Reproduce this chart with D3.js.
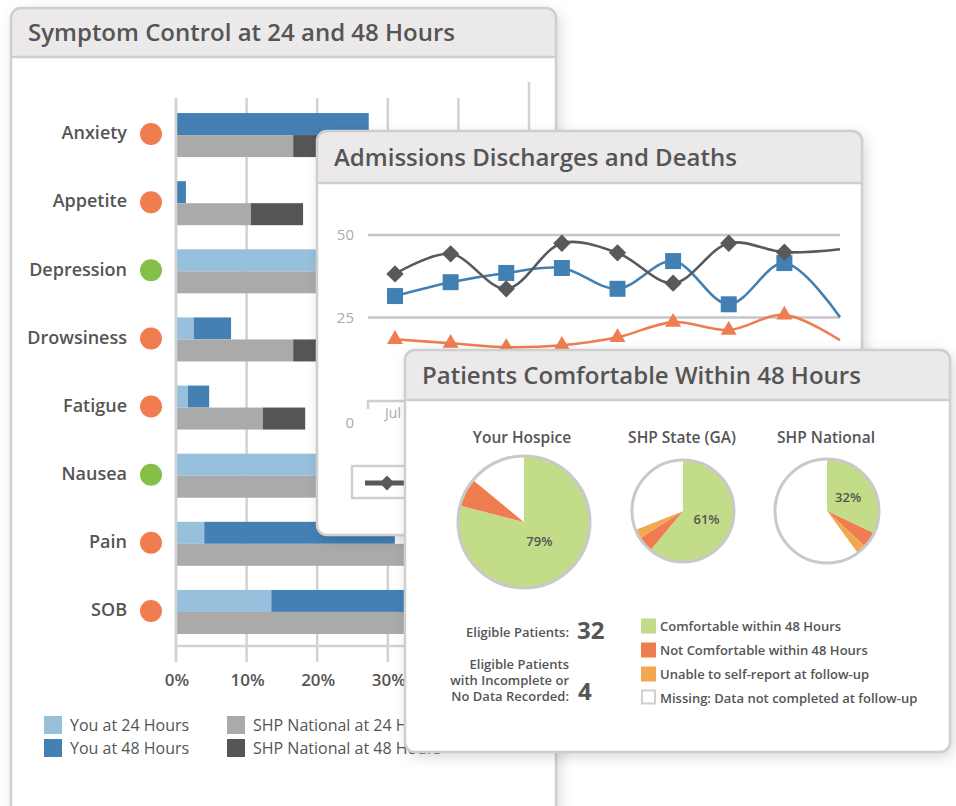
<!DOCTYPE html>
<html><head><meta charset="utf-8">
<script src="https://cdn.jsdelivr.net/npm/d3@7"></script>
<style>
body{margin:0;background:#fff;}
svg{display:block;font-family:'Open Sans',sans-serif;}
</style></head><body>
<svg id="c" width="956" height="806"></svg>
<script>
// ---------- DATA ----------
// Panel 1: Symptom Control (stacked segments, %)
const symptoms = ["Anxiety","Appetite","Depression","Drowsiness","Fatigue","Nausea","Pain","SOB"];
const symptomStatus = ["bad","bad","good","bad","bad","good","bad","bad"];
const you24 = [0, 0, 30, 2.5, 1.7, 28, 4.0, 13.5];
const you48 = [27.3, 1.4, 0, 5.3, 3.0, 0, 27.0, 24];   // added on top of 24h
const nat24 = [16.6, 10.6, 25, 16.6, 12.3, 26, 34, 35];
const nat48 = [6, 7.4, 0, 5, 6, 0, 0, 0];              // added on top of 24h
const pctTicks = [0, 10, 20, 30, 40, 50];
const pctTickLabels = ["0%","10%","20%","30%"];        // visible labels (40%, 50% lie under the front panel)
const barLegend = ["You at 24 Hours","You at 48 Hours","SHP National at 24 Hours","SHP National at 48 Hours"];

// Panel 2: Admissions Discharges and Deaths
const months = ["Jul","Aug","Sep","Oct","Nov","Dec","Jan","Feb","Mar"];
const seriesGray = [38.2, 44.3, 33.7, 47.5, 44.6, 35.4, 47.5, 44.8, 45.7];
const seriesBlue = [31.5, 35.7, 38.5, 40.0, 33.7, 42.1, 29.0, 41.5, 25.1];
const seriesOrange = [18.4, 17.2, 16.0, 16.6, 19.0, 23.6, 21.2, 25.8, 18.1];
const countTicks = [0, 25, 50];
const visibleMonthLabels = ["Jul"];

// Panel 3: Patients Comfortable Within 48 Hours
const pieGroups = ["Your Hospice","SHP State (GA)","SHP National"];
const comfortable = [79, 61, 32];
const notComfortable = [7, 5, 5];
const unableReport = [0, 3, 3];
const missingData = [14, 31, 60];
const pieLegend = ["Comfortable within 48 Hours","Not Comfortable within 48 Hours","Unable to self-report at follow-up","Missing: Data not completed at follow-up"];
const eligiblePatients = 32;
const incompletePatients = 4;

// ---------- DRAW ----------
const TXT = "#555";
const svg = d3.select("#c");
const defs = svg.append("defs");
const flt = defs.append("filter").attr("id","sh").attr("x","-10%").attr("y","-10%").attr("width","125%").attr("height","125%");
flt.append("feDropShadow").attr("dx",3).attr("dy",4).attr("stdDeviation",7).attr("flood-color","#000").attr("flood-opacity",0.17);

let clipN = 0;
function panel(x, y, w, h, hh, title) {
  const id = "clip" + (clipN++);
  defs.append("clipPath").attr("id", id).append("rect")
    .attr("x", x).attr("y", y).attr("width", w).attr("height", h).attr("rx", 10);
  const g = svg.append("g");
  g.append("rect").attr("x", x).attr("y", y).attr("width", w).attr("height", h).attr("rx", 10)
    .attr("fill", "#fff").attr("filter", "url(#sh)");
  const content = g.append("g");
  const hg = g.append("g").attr("clip-path", `url(#${id})`);
  hg.append("rect").attr("x", x).attr("y", y).attr("width", w).attr("height", hh).attr("fill", "#ebe9ea");
  hg.append("line").attr("x1", x).attr("x2", x + w).attr("y1", y + hh).attr("y2", y + hh)
    .attr("stroke", "#cfcfcf").attr("stroke-width", 2.5);
  g.append("text").attr("x", x + 17).attr("y", y + hh / 2 + 8.5).text(title)
    .attr("font-size", 24).attr("font-weight", 600).attr("fill", TXT);
  g.append("rect").attr("x", x).attr("y", y).attr("width", w).attr("height", h).attr("rx", 10)
    .attr("fill", "none").attr("stroke", "#cfcfcf").attr("stroke-width", 2.5);
  return content;
}

// ----- Panel 1 -----
const p1 = panel(11, 8, 545, 830, 49, "Symptom Control at 24 and 48 Hours");
const x1 = d3.scaleLinear().domain([0, 50]).range([176, 529]);
const y1 = d3.scaleBand().domain(symptoms).range([101, 646]).paddingInner(0.354).paddingOuter(0.177);
const bw = y1.bandwidth() / 2;

p1.selectAll(".grid").data(pctTicks).join("line")
  .attr("x1", d => x1(d)).attr("x2", d => x1(d))
  .attr("y1", d => d === 50 ? 82 : 98).attr("y2", 662)
  .attr("stroke", "#d2d2d2").attr("stroke-width", 2.5);
p1.append("line").attr("x1", x1(0)).attr("x2", x1(50)).attr("y1", 646).attr("y2", 646)
  .attr("stroke", "#d2d2d2").attr("stroke-width", 2.5);

const cLight = "#97c0dc", cBlue = "#4480b3", cGray = "#abaaab", cDark = "#555555";
symptoms.forEach((s, i) => {
  const yy = y1(s);
  p1.append("rect").attr("x", x1(0)).attr("y", yy).attr("height", bw)
    .attr("width", x1(you24[i]) - x1(0)).attr("fill", cLight);
  p1.append("rect").attr("x", x1(you24[i])).attr("y", yy).attr("height", bw)
    .attr("width", x1(you24[i] + you48[i]) - x1(you24[i])).attr("fill", cBlue);
  p1.append("rect").attr("x", x1(0)).attr("y", yy + bw).attr("height", bw)
    .attr("width", x1(nat24[i]) - x1(0)).attr("fill", cGray);
  p1.append("rect").attr("x", x1(nat24[i])).attr("y", yy + bw).attr("height", bw)
    .attr("width", x1(nat24[i] + nat48[i]) - x1(nat24[i])).attr("fill", cDark);
  const cy = yy + y1.bandwidth() / 2;
  p1.append("text").attr("x", 127).attr("y", cy - 2).attr("dy", "0.35em").attr("text-anchor", "end")
    .attr("font-size", 18).attr("font-weight", 600).attr("fill", TXT).text(s);
  p1.append("circle").attr("cx", 151).attr("cy", cy - 1).attr("r", 11)
    .attr("fill", symptomStatus[i] === "good" ? "#84c048" : "#ef7d50");
});
p1.append("line").attr("x1", x1(0)).attr("x2", x1(0)).attr("y1", 98).attr("y2", 662)
  .attr("stroke", "#d2d2d2").attr("stroke-width", 2.5);
p1.selectAll(".tl").data(pctTickLabels).join("text")
  .attr("x", (d, i) => x1(pctTicks[i]) + 1).attr("y", 680).attr("dy", "0.35em").attr("text-anchor", "middle")
  .attr("font-size", 17).attr("font-weight", 600).attr("fill", TXT).text(d => d);

const legCols = [cLight, cBlue, cGray, cDark];
barLegend.forEach((t, i) => {
  const lx = i < 2 ? 44 : 227, ly = i % 2 === 0 ? 716 : 739;
  p1.append("rect").attr("x", lx).attr("y", ly).attr("width", 18).attr("height", 18).attr("fill", legCols[i]);
  p1.append("text").attr("x", lx + 26).attr("y", ly + 9).attr("dy", "0.35em")
    .attr("font-size", 16).attr("fill", TXT).text(t);
});

// ----- Panel 2 -----
const p2 = panel(317, 131, 545, 404, 52, "Admissions Discharges and Deaths");
const x2 = d3.scalePoint().domain(months).range([395, 840]);
const y2 = d3.scaleLinear().domain([0, 50]).range([400, 235]);
p2.selectAll(".g2").data(countTicks.filter(d => d > 0)).join("line")
  .attr("x1", 368).attr("x2", 840).attr("y1", d => y2(d)).attr("y2", d => y2(d))
  .attr("stroke", "#c6c6c8").attr("stroke-width", 2.5);
p2.selectAll(".yl").data(countTicks).join("text")
  .attr("x", 354).attr("y", d => d === 0 ? y2(d) + 23 : y2(d)).attr("dy", "0.35em").attr("text-anchor", "end")
  .attr("font-size", 15).attr("fill", "#aaa").text(d => d);
p2.append("path").attr("d", `M368,409V401H840`).attr("fill", "none")
  .attr("stroke", "#cfcfcf").attr("stroke-width", 2.5);
p2.selectAll(".xl").data(visibleMonthLabels).join("text")
  .attr("x", d => x2(d) - 2).attr("y", 413).attr("dy", "0.35em").attr("text-anchor", "middle")
  .attr("font-size", 14).attr("fill", "#aaa").text(d => d);

const line2 = d3.line().x((d, i) => x2(months[i])).y(d => y2(d)).curve(d3.curveCatmullRom.alpha(0.5));
const ser = [
  {v: seriesOrange, c: "#ef7d50", sym: d3.symbolTriangle, size: 110, rot: 0},
  {v: seriesBlue, c: "#4280b4", sym: d3.symbolSquare, size: 256, rot: 0},
  {v: seriesGray, c: "#58595b", sym: d3.symbolSquare, size: 150, rot: 45}
];
ser.forEach(s => {
  p2.append("path").attr("d", line2(s.v)).attr("fill", "none").attr("stroke", s.c).attr("stroke-width", 2.6);
  p2.selectAll(null).data(s.v.slice(0, 8)).join("path")
    .attr("d", d3.symbol().type(s.sym).size(s.size))
    .attr("transform", (d, i) => `translate(${x2(months[i])},${y2(d)}) rotate(${s.rot})`)
    .attr("fill", s.c);
});
// legend (mostly covered)
p2.append("rect").attr("x", 352).attr("y", 466).attr("width", 420).attr("height", 32)
  .attr("fill", "#fff").attr("stroke", "#cfcfcf").attr("stroke-width", 2.5);
p2.append("line").attr("x1", 365).attr("x2", 412).attr("y1", 483).attr("y2", 483)
  .attr("stroke", "#58595b").attr("stroke-width", 5);
p2.append("path").attr("d", d3.symbol().type(d3.symbolSquare).size(110))
  .attr("transform", "translate(387,483) rotate(45)").attr("fill", "#58595b");

// ----- Panel 3 -----
const p3 = panel(405, 350, 545, 402, 50, "Patients Comfortable Within 48 Hours");
const pieLayout = [[524, 522, 66], [683, 511, 51], [827, 511, 52]];
const titleX = [522, 682, 826];
const pieCols = ["#c2dc88", "#ef7d50", "#f0a852", "#ffffff"];
const pie = d3.pie().sort(null).value(d => d);
pieGroups.forEach((name, i) => {
  const [cx, cy, r] = pieLayout[i];
  p3.append("text").attr("x", titleX[i]).attr("y", 438).attr("dy", "0.35em").attr("text-anchor", "middle")
    .attr("font-size", 15.5).attr("font-weight", 600).attr("fill", TXT).text(name);
  const vals = [comfortable[i], notComfortable[i], unableReport[i], missingData[i]];
  const arcs = pie(vals);
  const arc = d3.arc().innerRadius(0).outerRadius(r);
  const g = p3.append("g").attr("transform", `translate(${cx},${cy})`);
  g.selectAll("path").data(arcs).join("path").attr("d", arc).attr("fill", (d, j) => pieCols[j]);
  g.append("circle").attr("r", r).attr("fill", "none").attr("stroke", "#c9c9c9").attr("stroke-width", 3);
  const a = (arcs[0].startAngle + arcs[0].endAngle) / 2;
  g.append("text").attr("x", Math.sin(a) * 25).attr("y", -Math.cos(a) * 25).attr("dy", "0.35em")
    .attr("text-anchor", "middle").attr("font-size", 13).attr("font-weight", 600).attr("fill", TXT)
    .text(comfortable[i] + "%");
});

p3.append("text").attr("x", 569).attr("y", 632).attr("dy", "0.35em").attr("text-anchor", "end")
  .attr("font-size", 13).attr("font-weight", 600).attr("fill", TXT).text("Eligible Patients:");
p3.append("text").attr("x", 577).attr("y", 631).attr("dy", "0.35em")
  .attr("font-size", 24).attr("font-weight", 700).attr("fill", TXT).text(eligiblePatients);
["Eligible Patients", "with Incomplete or", "No Data Recorded:"].forEach((t, k) => {
  p3.append("text").attr("x", 569).attr("y", 664 + k * 16).attr("dy", "0.35em").attr("text-anchor", "end")
    .attr("font-size", 13).attr("font-weight", 600).attr("fill", TXT).text(t);
});
p3.append("text").attr("x", 578).attr("y", 692).attr("dy", "0.35em")
  .attr("font-size", 24).attr("font-weight", 700).attr("fill", TXT).text(incompletePatients);

pieLegend.forEach((t, k) => {
  const ly = 626 + k * 24;
  p3.append("rect").attr("x", k === 3 ? 642 : 641).attr("y", ly - 7.5).attr("width", k === 3 ? 13 : 15).attr("height", k === 3 ? 13 : 15)
    .attr("fill", pieCols[k]).attr("stroke", k === 3 ? "#cfcfcf" : "none").attr("stroke-width", 2);
  p3.append("text").attr("x", 660).attr("y", ly).attr("dy", "0.35em")
    .attr("font-size", 13).attr("font-weight", 600).attr("fill", TXT).text(t);
});
</script>
</body></html>
